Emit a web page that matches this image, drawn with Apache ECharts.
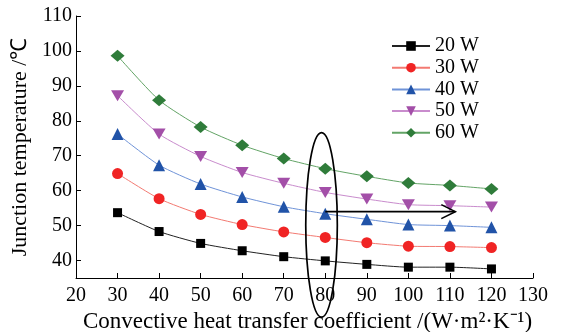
<!DOCTYPE html>
<html>
<head>
<meta charset="utf-8">
<script src="https://cdn.jsdelivr.net/npm/echarts@6/dist/echarts.min.js"></script>
<style>
  html, body { margin: 0; padding: 0; background: #fff; }
  #chart { width: 563px; height: 332px; }
</style>
</head>
<body>
<div id="chart"></div>
<script>
const coefficients = [30, 40, 50, 60, 70, 80, 90, 100, 110, 120];
const temp20W = [53.7, 48.3, 44.9, 42.8, 41.1, 39.9, 38.9, 38.1, 38.1, 37.6];
const temp30W = [64.9, 57.7, 53.2, 50.3, 48.2, 46.6, 45.1, 44.1, 44.0, 43.7];
const temp40W = [76.2, 67.3, 61.9, 58.2, 55.4, 53.4, 51.8, 50.3, 50.0, 49.5];
const temp50W = [87.2, 76.2, 69.8, 65.2, 62.1, 59.5, 57.6, 56.0, 55.7, 55.3];
const temp60W = [98.6, 85.9, 78.2, 73.0, 69.2, 66.3, 64.1, 62.2, 61.5, 60.5];
const yTicks = [40, 50, 60, 70, 80, 90, 100, 110];

// annotation: ellipse round the 80 column, arrow towards larger coefficients
const ellipseCenter = [79.1, 50.2];
const ellipseRadius = [3.8, 26.4];
const arrowFrom = [80, 54];
const arrowTo = [111.3, 54];

const font = "'Liberation Serif', 'Times New Roman', serif";

const seriesDefs = [
  { name: "20 W", data: temp20W, symbol: "rect", size: 9, mark: "#000000", line: "#222222" },
  { name: "30 W", data: temp30W, symbol: "circle", size: 11, mark: "#f02424", line: "#f37a72" },
  { name: "40 W", data: temp40W, symbol: "triangle", size: 12, mark: "#2153a8", line: "#6f93d8" },
  { name: "50 W", data: temp50W, symbol: "path://M0,0 L10,0 L5,9 Z", size: [13, 11], mark: "#a34fa8", line: "#c98ccd" },
  { name: "60 W", data: temp60W, symbol: "diamond", size: [14, 12], mark: "#2f7c3a", line: "#63a466" },
];

const chart = echarts.init(document.getElementById("chart"));

const series = seriesDefs.map((s) => ({
  name: s.name,
  type: "line",
  smooth: 0.2,
  symbol: s.symbol,
  symbolSize: s.size,
  itemStyle: { color: s.mark },
  lineStyle: { color: s.line, width: 1 },
  data: coefficients.map((c, i) => [c, s.data[i]]),
  z: 3,
}));

series.push({
  type: "custom",
  clip: false,
  silent: true,
  z: 5,
  zlevel: 1,
  data: [[ellipseCenter[0], ellipseCenter[1], arrowFrom[0], arrowFrom[1], arrowTo[0], arrowTo[1]]],
  renderItem: (params, api) => {
    const cx = api.value(0);
    const cy = api.value(1);
    const c = api.coord([cx, cy]);
    const right = api.coord([cx + ellipseRadius[0], cy]);
    const top = api.coord([cx, cy + ellipseRadius[1]]);
    const a = api.coord([api.value(2), api.value(3)]);
    const b = api.coord([api.value(4), api.value(5)]);
    return {
      type: "group",
      children: [
        {
          type: "ellipse",
          shape: { cx: c[0], cy: c[1], rx: right[0] - c[0], ry: c[1] - top[1] },
          style: { fill: "none", stroke: "#000", lineWidth: 1.7 },
        },
        {
          type: "line",
          shape: { x1: a[0], y1: a[1], x2: b[0], y2: b[1] },
          style: { stroke: "#000", lineWidth: 1.6 },
        },
        {
          type: "polyline",
          shape: { points: [[b[0] - 14, b[1] - 7], [b[0], b[1]], [b[0] - 14, b[1] + 7]] },
          style: { fill: "none", stroke: "#000", lineWidth: 1.6 },
        },
      ],
    };
  },
});

chart.setOption({
  animation: false,
  backgroundColor: "#fff",
  textStyle: { fontFamily: font, color: "#000" },
  grid: { left: 76, right: 30, top: 16, bottom: 54, containLabel: false, outerBoundsMode: "none" },
  legend: {
    orient: "vertical",
    left: 386,
    top: 31,
    itemWidth: 38,
    itemHeight: 12,
    itemGap: 1.7,
    textStyle: { fontFamily: font, fontSize: 20, lineHeight: 20, color: "#000" },
    data: seriesDefs.map((s) => s.name),
  },
  xAxis: {
    type: "value",
    min: 20,
    max: 130,
    interval: 10,
    name: "Convective heat transfer coefficient /(W\u00b7m\u00b2\u00b7K\u207b\u00b9)",
    nameLocation: "middle",
    nameGap: 28,
    nameTextStyle: { fontFamily: font, fontSize: 23, color: "#000", padding: [0, 0, 0, 6] },
    axisLine: { lineStyle: { color: "#000", width: 1 } },
    axisTick: { inside: true, length: 5, lineStyle: { color: "#000" } },
    axisLabel: { fontFamily: font, fontSize: 20, color: "#000", margin: 8 },
    splitLine: { show: false },
  },
  yAxis: {
    type: "value",
    min: 35,
    max: 110,
    name: "Junction temperature /\u2103",
    nameLocation: "middle",
    nameGap: 40,
    nameTextStyle: { fontFamily: font, fontSize: 22, color: "#000" },
    axisLine: { show: true, lineStyle: { color: "#000", width: 1 } },
    axisTick: { show: true, inside: true, length: 5, customValues: yTicks, lineStyle: { color: "#000" } },
    axisLabel: { fontFamily: font, fontSize: 20, color: "#000", margin: 4, customValues: yTicks },
    splitLine: { show: false },
  },
  series: series,
});
</script>
</body>
</html>
